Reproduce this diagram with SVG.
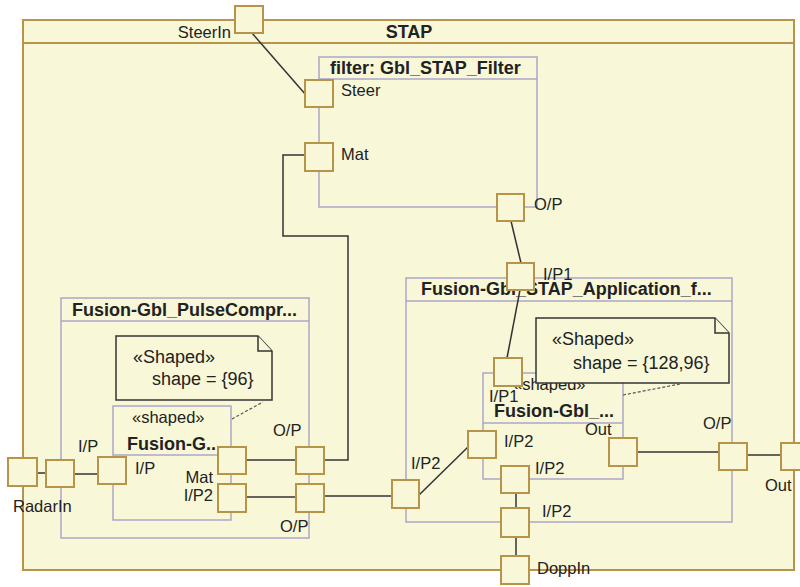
<svg xmlns="http://www.w3.org/2000/svg" width="800" height="587" viewBox="0 0 800 587">
<style>
.frame{fill:#F8F8D8;stroke:#B8944A;stroke-width:2}
.part{fill:none;stroke:#ACA6C8;stroke-width:1.5}
.port{fill:#F8F8D8;stroke:#B8944A;stroke-width:2}
.note{fill:#F8F8D8;stroke:#333;stroke-width:1.5}
.wire{fill:none;stroke:#333;stroke-width:1.5}
.dash{fill:none;stroke:#555;stroke-width:1.2;stroke-dasharray:3,2}
text{font-family:"Liberation Sans",Arial,sans-serif;font-size:16.5px;fill:#222}
.b{font-weight:bold;font-size:18px}
.n{font-size:18px}
</style>
<rect width="800" height="587" fill="#fff"/>
<g id="stap">
<rect class="frame" x="23" y="20" width="771" height="550"/>
<line class="frame" x1="23" y1="43" x2="794" y2="43"/>
<text class="b" x="409" y="38" text-anchor="middle">STAP</text>
</g>
<g id="filter">
<rect class="part" x="319" y="57" width="218" height="150"/>
<line class="part" x1="319" y1="79" x2="537" y2="79"/>
<text class="b" x="330" y="74">filter: Gbl_STAP_Filter</text>
</g>
<g id="pulse">
<rect class="part" x="61" y="298" width="248" height="240"/>
<line class="part" x1="61" y1="321" x2="309" y2="321"/>
<text class="b" x="72" y="316">Fusion-Gbl_PulseCompr...</text>
</g>
<g id="pulseInner">
<rect class="part" x="113" y="406" width="118" height="114"/>
<line class="part" x1="113" y1="455" x2="231" y2="455"/>
<text x="132" y="423">«shaped»</text>
<text class="b" x="127" y="450">Fusion-G..</text>
</g>
<g id="note1">
<path class="note" d="M116,336 H258 L272,351 V400 H116 Z"/>
<path class="note" fill="none" d="M258,336 V351 H272"/>
<text class="n" x="133" y="363">«Shaped»</text>
<text class="n" x="152" y="385">shape = {96}</text>
</g>
<g id="app">
<rect class="part" x="406" y="278" width="326" height="244"/>
<line class="part" x1="406" y1="301" x2="732" y2="301"/>
<text class="b" x="421" y="295">Fusion-Gbl_STAP_Application_f...</text>
</g>
<g id="appInner">
<rect class="part" x="483" y="373" width="140" height="106"/>
<line class="part" x1="483" y1="423" x2="623" y2="423"/>
<text x="513" y="390">«shaped»</text>
<text class="b" x="494" y="417">Fusion-Gbl_...</text>
</g>
<g id="note2">
<path class="note" d="M536,318 H715 L729,333 V383 H536 Z"/>
<path class="note" fill="none" d="M715,318 V333 H729"/>
<text class="n" x="552" y="345">«Shaped»</text>
<text class="n" x="573" y="369">shape = {128,96}</text>
</g>
<g id="connectors">
<path class="wire" d="M252,33 L306,95"/>
<path class="wire" d="M305,155 H283 V236 H348 V460 H324"/>
<path class="wire" d="M511,221 L521,263"/>
<path class="wire" d="M520,290 L507,358"/>
<path class="wire" d="M37,473 H46"/>
<path class="wire" d="M74,474 H98"/>
<path class="wire" d="M246,460 H296"/>
<path class="wire" d="M246,497 H296"/>
<path class="wire" d="M324,496 H392"/>
<path class="wire" d="M419,495 L468,447"/>
<path class="wire" d="M516,493 V508"/>
<path class="wire" d="M516,537 V556"/>
<path class="wire" d="M637,452 H719"/>
<path class="wire" d="M747,455 H781"/>
<path class="dash" d="M232,419 L263,402"/>
<path class="dash" d="M623,395 L680,384"/>
</g>
<g id="p-steerin"><rect class="port" x="235" y="6" width="28" height="27"/><text x="231" y="38" text-anchor="end">SteerIn</text></g>
<g id="p-steer"><rect class="port" x="305" y="80" width="28" height="27"/><text x="341" y="96">Steer</text></g>
<g id="p-mat"><rect class="port" x="305" y="143" width="28" height="28"/><text x="341" y="160">Mat</text></g>
<g id="p-filter-op"><rect class="port" x="497" y="194" width="27" height="27"/><text x="534" y="210">O/P</text></g>
<g id="p-app-ip1"><rect class="port" x="507" y="263" width="27" height="27"/><text x="543" y="280">I/P1</text></g>
<g id="p-inner-ip1"><rect class="port" x="494" y="358" width="28" height="28"/><text x="489" y="402">I/P1</text></g>
<g id="p-radarin"><rect class="port" x="8" y="458" width="29" height="28"/><text x="13" y="512">RadarIn</text></g>
<g id="p-pulse-ip"><rect class="port" x="46" y="460" width="28" height="27"/><text x="78" y="452">I/P</text></g>
<g id="p-pinner-ip"><rect class="port" x="98" y="457" width="28" height="27"/><text x="135" y="474">I/P</text></g>
<g id="p-pinner-mat"><rect class="port" x="218" y="447" width="28" height="27"/><text x="213" y="483" text-anchor="end">Mat</text></g>
<g id="p-pinner-ip2"><rect class="port" x="218" y="484" width="28" height="28"/><text x="213" y="501" text-anchor="end">I/P2</text></g>
<g id="p-pulse-op1"><rect class="port" x="296" y="447" width="28" height="27"/><text x="273" y="436">O/P</text></g>
<g id="p-pulse-op2"><rect class="port" x="296" y="484" width="28" height="28"/><text x="280" y="532">O/P</text></g>
<g id="p-app-ip2"><rect class="port" x="392" y="480" width="27" height="28"/><text x="411" y="469">I/P2</text></g>
<g id="p-ainner-ip2a"><rect class="port" x="468" y="431" width="28" height="27"/><text x="504" y="447">I/P2</text></g>
<g id="p-ainner-ip2b"><rect class="port" x="501" y="466" width="28" height="27"/><text x="535" y="474">I/P2</text></g>
<g id="p-app-ip2b"><rect class="port" x="501" y="508" width="28" height="29"/><text x="542" y="517">I/P2</text></g>
<g id="p-doppin"><rect class="port" x="501" y="556" width="28" height="28"/><text x="537" y="574">DoppIn</text></g>
<g id="p-ainner-out"><rect class="port" x="609" y="438" width="28" height="28"/><text x="585" y="435">Out</text></g>
<g id="p-app-op"><rect class="port" x="719" y="443" width="28" height="27"/><text x="703" y="429">O/P</text></g>
<g id="p-out"><rect class="port" x="781" y="443" width="28" height="27"/><text x="765" y="491">Out</text></g>
</svg>
